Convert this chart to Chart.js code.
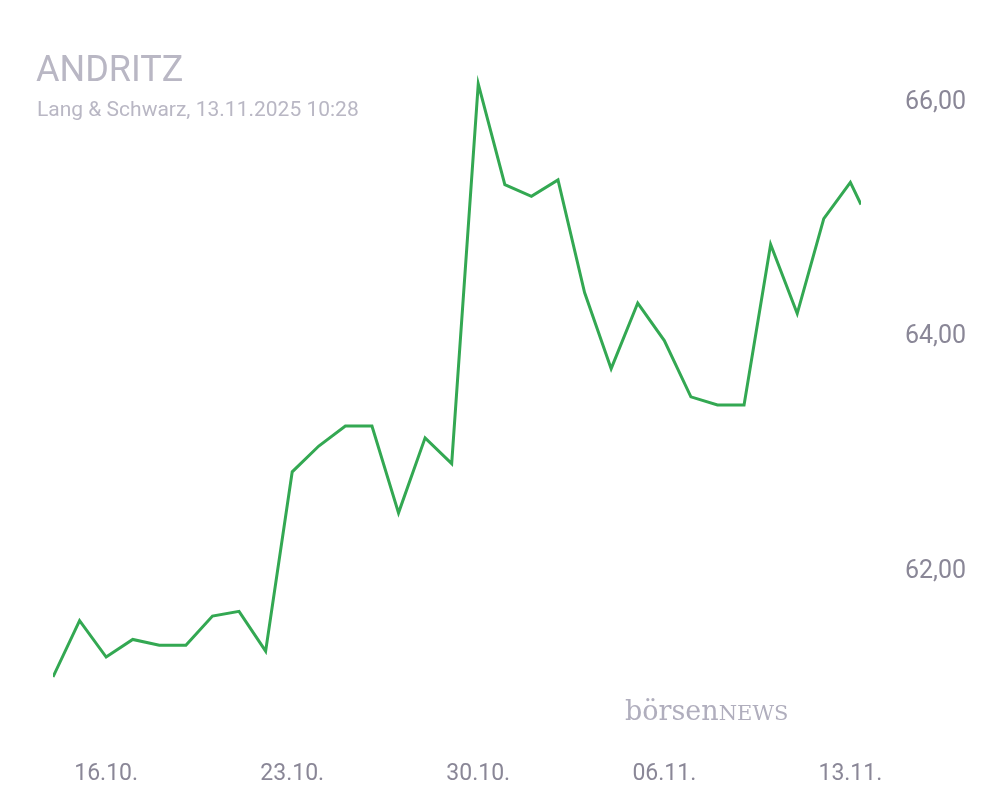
<!DOCTYPE html>
<html><head><meta charset="utf-8">
<script src="https://cdn.jsdelivr.net/npm/chart.js@4"></script>
<style>
body{margin:0;background:#fff;font-family:Roboto,sans-serif}
#wrap{position:relative;width:1008px;height:810px}
.t{position:absolute;left:36px;top:48px;font-size:36px;color:#b9b7c4}
.s{position:absolute;left:37px;top:97px;font-size:21px;color:#b9b7c4}
.logo{position:absolute;left:625px;top:695px;font-size:27px;color:#b0aebd;font-family:"DejaVu Serif",serif}
</style></head>
<body><div id="wrap">
<canvas id="c" width="1008" height="810"></canvas>
<div class="t">ANDRITZ</div>
<div class="s">Lang &amp; Schwarz, 13.11.2025 10:28</div>
<div class="logo">börsen<span style="font-size:21px">NEWS</span></div>
</div>
<script>
// Tagesindex ab 14.10. (0) bis 13.11. Intraday
const dayIndex = [0,1,2,3,4,5,6,7,8,9,10,11,12,13,14,15,16,17,18,19,20,21,22,23,24,25,26,27,28,29,30,30.4];
const prices = [61.10,61.58,61.27,61.42,61.37,61.37,61.62,61.66,61.32,62.85,63.07,63.24,63.24,62.50,63.14,62.92,66.16,65.30,65.20,65.34,64.38,63.73,64.29,63.97,63.49,63.42,63.42,64.79,64.20,65.01,65.32,65.13];
const tickDays = [2,9,16,23,30];
const tickLabels = ['16.10.','23.10.','30.10.','06.11.','13.11.'];
const priceTicks = [62,64,66];

new Chart(document.getElementById('c'), {
  type: 'line',
  data: { datasets: [{ data: dayIndex.map((d,i)=>({x:d,y:prices[i]})), borderColor:'#33a852', borderWidth:3, pointRadius:0, tension:0 }] },
  options: {
    responsive:false, animation:false,
    layout:{ padding:{ left:53, top:36, right:0, bottom:0 } },
    plugins:{ legend:{display:false}, tooltip:{enabled:false} },
    scales:{
      x:{ type:'linear', min:0, max:30.4,
          grid:{display:false}, border:{display:false},
          afterBuildTicks:s=>{ s.ticks = tickDays.map(v=>({value:v})); },
          afterFit:s=>{ s.height = 92; },
          ticks:{ padding:34, color:'#8a8797', font:{size:23, family:'Roboto'}, maxRotation:0, autoSkip:false,
                  callback:(v)=>tickLabels[tickDays.indexOf(v)] } },
      y:{ position:'right', min:60.75, max:66.44,
          grid:{display:false}, border:{display:false},
          afterBuildTicks:s=>{ s.ticks = priceTicks.map(v=>({value:v})); },
          afterFit:s=>{ s.width = 147; },
          ticks:{ padding:36, color:'#8a8797', font:{size:25, family:'Roboto'},
                  callback:v=>v.toFixed(2).replace('.',',') } }
    }
  }
});
</script>
</body></html>
